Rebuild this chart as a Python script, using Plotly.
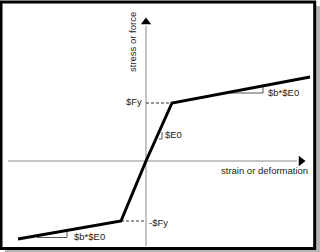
import plotly.graph_objects as go

# Material model (arbitrary units)
strain = [-128, -25, 0, 26, 164]
stress = [-78, -60, 0, 58, 84]
Fy_pos = 58
Fy_neg = -60
eps_y_pos = 26
eps_y_neg = -25

axis_x_extent = [-138, 151]
axis_y_extent = [-85, 135]

FONT = "Arial, Liberation Sans, sans-serif"

fig = go.Figure()

# coordinate axes (gray lines)
fig.add_trace(go.Scatter(x=axis_x_extent, y=[0, 0], mode="lines",
                         line=dict(color="#8a8a8a", width=1), hoverinfo="skip"))
fig.add_trace(go.Scatter(x=[0, 0], y=axis_y_extent, mode="lines",
                         line=dict(color="#8a8a8a", width=1), hoverinfo="skip"))
# arrow heads
fig.add_trace(go.Scatter(x=[0], y=[139], mode="markers",
                         marker=dict(symbol="triangle-up", size=9, color="black"), hoverinfo="skip"))
fig.add_trace(go.Scatter(x=[155], y=[0], mode="markers",
                         marker=dict(symbol="triangle-right", size=9, color="black"), hoverinfo="skip"))

# dashed yield lines
fig.add_trace(go.Scatter(x=[0, eps_y_pos], y=[Fy_pos, Fy_pos], mode="lines",
                         line=dict(color="#333", width=1, dash="3px,2px"), hoverinfo="skip"))
fig.add_trace(go.Scatter(x=[eps_y_neg, 0], y=[Fy_neg, Fy_neg], mode="lines",
                         line=dict(color="#333", width=1, dash="3px,2px"), hoverinfo="skip"))

# slope brackets
fig.add_trace(go.Scatter(x=[13, 16, 16], y=[22, 22, 29], mode="lines",
                         line=dict(color="#555", width=1), hoverinfo="skip"))
fig.add_trace(go.Scatter(x=[84, 117, 117], y=[68, 68, 75], mode="lines",
                         line=dict(color="#555", width=1), hoverinfo="skip"))
fig.add_trace(go.Scatter(x=[-109, -79, -79], y=[-76.5, -76.5, -70.5], mode="lines",
                         line=dict(color="#555", width=1), hoverinfo="skip"))

# stress-strain curve
fig.add_trace(go.Scatter(x=strain, y=stress, mode="lines",
                         line=dict(color="black", width=3), hoverinfo="skip"))

def label(text, x, y, xanchor="left", angle=0):
    fig.add_annotation(text=text, x=x, y=y, xref="x", yref="y", showarrow=False,
                       xanchor=xanchor, yanchor="middle", textangle=angle,
                       font=dict(family=FONT, size=9.5, color="#222"))

label("$Fy", -2, 60, xanchor="right")
label("-$Fy", 1, -61)
label("$E0", 17, 27)
label("$b*$E0", 120, 69)
label("$b*$E0", -74, -75)
label("strain or deformation", 118, -9, xanchor="center")
label("stress or force", -14, 119, xanchor="center", angle=-90)

# frame with shadow
fig.add_shape(type="rect", xref="paper", yref="paper",
              x0=5/320, x1=320/320, y0=1-252/252, y1=1-6/252,
              fillcolor="#b5b5b5", line=dict(width=0), layer="below")
fig.add_shape(type="rect", xref="paper", yref="paper",
              x0=1/320, x1=314.7/320, y0=1-248.5/252, y1=1-2/252,
              fillcolor="white", line=dict(color="black", width=3), layer="below")

fig.update_layout(
    width=320, height=252,
    margin=dict(l=0, r=0, t=0, b=0),
    paper_bgcolor="white", plot_bgcolor="rgba(0,0,0,0)",
    showlegend=False,
    xaxis=dict(range=[-146, 174], visible=False, fixedrange=True),
    yaxis=dict(range=[-91, 161], visible=False, fixedrange=True),
)

fig.write_html("out.html")
